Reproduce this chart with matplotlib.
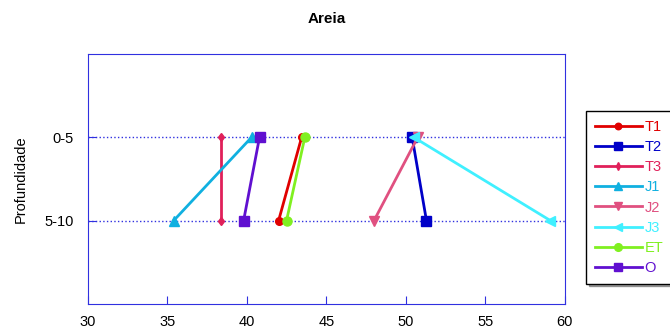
import matplotlib
matplotlib.use("Agg")
import matplotlib.pyplot as plt

plt.rcParams['font.family'] = ['Liberation Sans', 'DejaVu Sans']

depths = ["0-5", "5-10"]
series = ["T1", "T2", "T3", "J1", "J2", "J3", "ET", "O"]
t1 = [43.45, 42.0]
t2 = [50.4, 51.3]
t3 = [38.4, 38.4]
j1 = [40.3, 35.4]
j2 = [50.75, 48.0]
j3 = [50.5, 59.1]
et = [43.65, 42.5]
o = [40.8, 39.8]

colors = ["#e00000", "#0000c8", "#e0205a", "#10b0e0", "#e05080", "#40f0ff", "#80f020", "#6010d0"]
markers = ["o", "s", "d", "^", "v", "<", "o", "s"]
sizes = [5.5, 6.5, 4.5, 6.5, 6.5, 6.5, 6.5, 6.5]
values = [t1, t2, t3, j1, j2, j3, et, o]

fig = plt.figure(figsize=(6.7, 3.29), dpi=100)
ax = fig.add_axes([0.131, 0.076, 0.712, 0.76])

ypos = [1, 2]
for name, vals, c, m, s in zip(series, values, colors, markers, sizes):
    ax.plot(vals, ypos, color=c, marker=m, markersize=s, lw=2.0, label=name)

ax.set_xlim(30, 60)
ax.set_ylim(3, 0)
ax.set_yticks(ypos)
ax.set_yticklabels(depths)
ax.set_xticks(range(30, 61, 5))
ax.yaxis.grid(True, color="#3030e0", linestyle=":", lw=1)
for sp in ax.spines.values():
    sp.set_color("#3030e0")
ax.tick_params(colors="#3030e0", labelcolor="black", labelsize=10.5, length=6,
               direction="in")
ax.tick_params(axis="y", pad=10)
ax.tick_params(axis="x", pad=8)
ax.set_ylabel("Profundidade", fontsize=10.5, labelpad=12)
ax.set_title("Areia", fontsize=11, fontweight="bold", pad=22)

leg = ax.legend(loc="upper left", bbox_to_anchor=(1.03, 0.8), frameon=True,
                fancybox=False, shadow=True, fontsize=10.5, handlelength=3.2,
                handletextpad=0.2, labelspacing=0.42, borderpad=0.6,
                markerscale=0.85)
leg.get_frame().set_edgecolor("black")
for txt, c in zip(leg.get_texts(), colors):
    txt.set_color(c)

fig.savefig("out.png", dpi=100)
